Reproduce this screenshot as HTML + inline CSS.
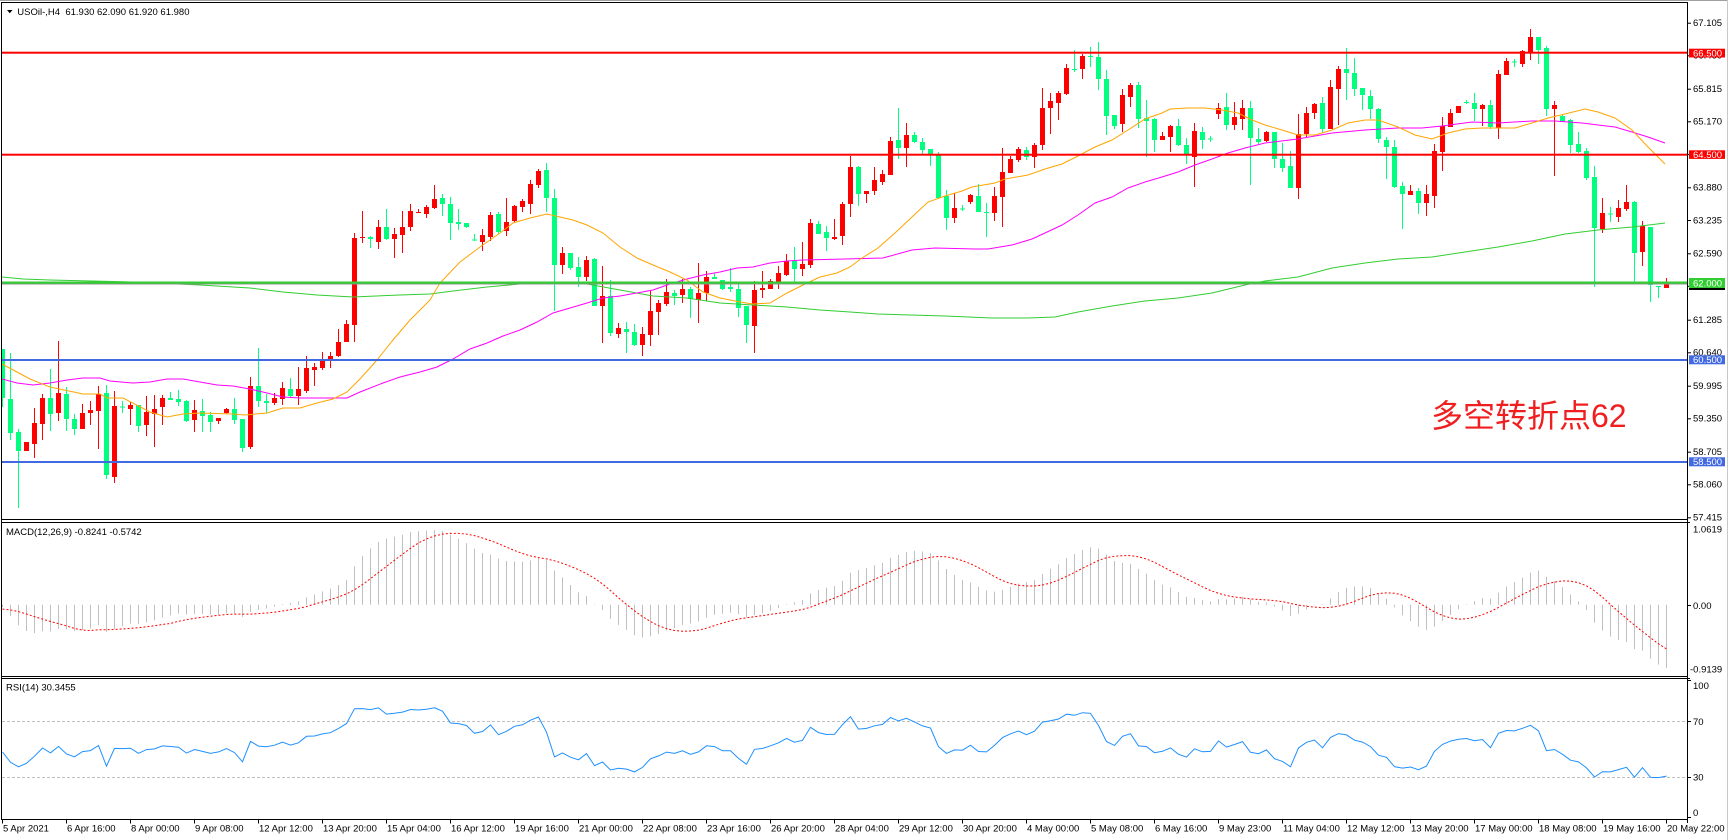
<!DOCTYPE html>
<html><head><meta charset="utf-8">
<style>
html,body{margin:0;padding:0;background:#fff;width:1730px;height:840px;overflow:hidden}
svg{display:block;font-family:"Liberation Sans",sans-serif}
.ax{font-size:9.5px;fill:#000}
.wl{font-size:9.5px;fill:#fff}
</style></head>
<body>
<svg id="s" width="1730" height="840" viewBox="0 0 1730 840" xmlns="http://www.w3.org/2000/svg">
<defs>
<clipPath id="cm"><rect x="2" y="3" width="1685" height="516"/></clipPath>
<clipPath id="cd"><rect x="2" y="523" width="1685" height="153"/></clipPath>
<clipPath id="cr"><rect x="2" y="679" width="1685" height="140"/></clipPath>
</defs>
<rect width="1730" height="840" fill="#fff"/>

<!-- candles -->
<g id="candles" clip-path="url(#cm)"></g>

<!-- moving averages -->
<g clip-path="url(#cm)" fill="none" stroke-width="1">
<polyline stroke="#32CD32" points="2,277 23,279 50,280 133,282 200,285 250,288 283,292 317,295 353,297 400,295 430,294 453,291 487,287 520,284 553,283 587,284 620,290 653,296 687,298 720,303 753,305 787,307 820,310 850,312 878,314 945,316 992,318 1028,318 1055,317 1078,312 1112,306 1145,301 1178,298 1212,293 1245,285 1265,281 1298,277 1332,268 1365,263 1398,259 1432,257 1465,252 1498,247 1532,241 1565,234 1598,230 1632,227 1665,223"/>
<polyline stroke="#FF00FF" points="2,379 17,383 33,385 50,383 67,380 83,378 100,378 110,381 133,383 150,382 167,379 183,379 200,382 217,385 233,386 250,389 267,393 283,397 300,398 347,398 360,392 383,383 400,377 420,372 437,367 453,359 470,349 487,343 503,336 520,330 537,322 553,313 570,308 587,303 603,298 620,296 637,293 653,290 670,284 687,279 703,275 720,272 737,268 753,267 770,263 787,261 803,260 845,259 883,258 912,250 935,248 975,249 988,249 1012,245 1032,239 1045,233 1062,225 1078,215 1095,203 1112,197 1128,188 1145,182 1162,177 1178,172 1195,165 1212,159 1228,153 1245,148 1265,143 1298,139 1332,133 1365,130 1398,128 1422,128 1442,126 1472,122 1498,123 1532,121 1555,121 1582,123 1598,125 1615,127 1632,132 1648,137 1665,143"/>
<polyline stroke="#FFA500" points="2,364 30,379 50,387 83,394 100,394 107,398 123,398 150,412 167,417 183,414 200,413 233,414 245,415 267,413 283,408 300,408 317,403 333,399 347,392 360,379 377,360 393,340 410,320 420,310 430,300 440,283 460,262 480,247 500,233 513,223 530,218 547,214 560,217 573,220 587,225 603,233 620,247 637,258 653,265 670,272 687,280 703,292 720,298 740,302 753,304 770,303 787,293 803,285 820,277 837,273 850,267 862,258 878,248 895,233 912,217 928,202 945,196 962,191 972,187 995,183 1005,179 1028,175 1045,169 1062,164 1078,156 1095,147 1112,140 1128,130 1145,119 1162,113 1170,109 1188,108 1205,108 1222,110 1238,113 1252,120 1265,125 1282,130 1298,135 1315,135 1332,130 1348,123 1365,120 1378,120 1398,127 1415,135 1432,139 1448,133 1465,129 1482,128 1498,128 1515,128 1532,123 1548,118 1565,114 1585,109 1598,112 1615,118 1632,130 1648,147 1665,164"/>
</g>

<!-- horizontal levels -->
<rect x="2" y="51.7" width="1685" height="2" fill="#FF0000"/>
<rect x="2" y="153.7" width="1685" height="2" fill="#FF0000"/>
<rect x="2" y="283.5" width="1685" height="1" fill="#909090"/>
<rect x="2" y="281.5" width="1685" height="2.2" fill="#32CD32"/>
<rect x="2" y="359" width="1685" height="2" fill="#4169E1"/>
<rect x="2" y="461" width="1685" height="2" fill="#4169E1"/>

<!-- annotation text -->
<text x="1431" y="427" font-size="32" fill="#F01E1E" style="font-family:'Liberation Sans','Noto Sans CJK SC',sans-serif">多空转折点62</text>

<!-- MACD & RSI -->
<g id="macd" clip-path="url(#cd)"></g>
<g clip-path="url(#cr)" stroke="#C0C0C0" stroke-width="1" stroke-dasharray="3,2">
<line x1="2" y1="721.5" x2="1687" y2="721.5"/>
<line x1="2" y1="777.5" x2="1687" y2="777.5"/>
</g>
<g id="rsi" clip-path="url(#cr)"></g>

<!-- frames -->
<g stroke="#000" stroke-width="1" fill="none">
<line x1="1" y1="2.5" x2="1688" y2="2.5"/>
<line x1="1.5" y1="2" x2="1.5" y2="819.5"/>
<line x1="1687.5" y1="2" x2="1687.5" y2="823"/>
<line x1="1" y1="519.5" x2="1688" y2="519.5"/>
<line x1="1" y1="522.5" x2="1690" y2="522.5"/>
<line x1="1" y1="676.5" x2="1688" y2="676.5"/>
<line x1="1" y1="678.5" x2="1690" y2="678.5"/>
<line x1="1" y1="819.5" x2="1688" y2="819.5"/>
</g>
<line x1="0" y1="0.5" x2="1728" y2="0.5" stroke="#A0A0A0" stroke-width="1"/>
<line x1="1727.5" y1="0" x2="1727.5" y2="840" stroke="#C8C8C8" stroke-width="1"/>

<!-- price axis ticks & labels -->
<g id="pax"></g>

<!-- level boxes -->
<rect x="1689" y="48.7" width="36" height="8.8" fill="#FF0000"/>
<text class="wl" x="1693" y="56.3">66.500</text>
<rect x="1689" y="150.3" width="36" height="8.6" fill="#FF0000"/>
<text class="wl" x="1693" y="157.8">64.500</text>
<rect x="1689" y="283.5" width="36" height="6.5" fill="#000"/>
<rect x="1689" y="278" width="36" height="10" fill="#32CD32"/>
<text class="wl" x="1693" y="286.3">62.000</text>
<rect x="1689" y="355.3" width="36" height="9" fill="#4169E1"/>
<text class="wl" x="1693" y="363.1">60.500</text>
<rect x="1689" y="457.3" width="36" height="9" fill="#4169E1"/>
<text class="wl" x="1693" y="465.1">58.500</text>

<!-- indicator axis labels -->
<text class="ax" x="1693" y="532.4">1.0619</text>
<line x1="1687" y1="605.5" x2="1691" y2="605.5" stroke="#000"/>
<text class="ax" x="1693" y="609.1">0.00</text>
<text class="ax" x="1690" y="672.7">-0.9139</text>
<line x1="1687" y1="680.5" x2="1691" y2="680.5" stroke="#000"/>
<text class="ax" x="1693" y="689.1">100</text>
<line x1="1687" y1="721.5" x2="1691" y2="721.5" stroke="#000"/>
<text class="ax" x="1693" y="725.1">70</text>
<line x1="1687" y1="777.5" x2="1691" y2="777.5" stroke="#000"/>
<text class="ax" x="1693" y="780.7">30</text>
<line x1="1687" y1="817.5" x2="1691" y2="817.5" stroke="#000"/>
<text class="ax" x="1693" y="816.1">0</text>

<!-- panel titles -->
<polygon points="7,10 12.5,10 9.75,13.2" fill="#000"/>
<text class="ax" x="17.3" y="15" style="white-space:pre">USOil-,H4  61.930 62.090 61.920 61.980</text>
<text class="ax" x="6" y="535">MACD(12,26,9) -0.8241 -0.5742</text>
<text class="ax" x="6" y="690.7">RSI(14) 30.3455</text>

<!-- time axis -->
<g id="tax"></g>
</svg>

<script>
(function(){
var D=[
[349,398,349,407],[399,433,353,440],[432,451,429,508],[451,442,442,451],[444,423,408,458],
[424,398,394,440],[398,414,369,431],[413,393,341,421],[394,419,387,431],[419,429,414,435],
[429,413,404,429],[413,410,401,425],[411,394,386,449],[393,475,385,479],[477,406,391,483],
[407,407,401,413],[409,405,402,425],[405,426,405,432],[425,412,396,436],[414,409,395,447],
[407,398,395,425],[398,400,392,400],[399,402,390,406],[401,421,400,422],[420,410,400,432],
[411,416,399,432],[415,422,412,432],[421,418,418,424],[413,409,408,414],[409,420,398,424],
[419,448,419,452],[447,386,377,449],[386,401,348,407],[401,403,394,413],[403,398,393,405],
[399,388,382,405],[389,396,378,397],[396,389,367,405],[391,368,356,393],[370,367,363,386],
[368,360,352,370],[361,356,352,368],[356,342,329,357],[342,324,320,342],[325,238,233,342],
[238,237,211,243],[237,239,236,248],[242,227,220,249],[227,239,209,240],[239,234,228,258],
[235,227,211,253],[227,211,204,231],[213,212,209,213],[214,207,205,218],[208,199,185,209],
[198,204,194,216],[204,223,197,240],[222,224,209,230],[223,227,223,228],[240,240,234,241],
[242,235,229,251],[237,215,212,241],[214,232,212,234],[231,222,198,236],[221,206,205,223],
[207,201,199,212],[204,184,180,214],[185,171,169,188],[170,198,163,212],[198,265,189,311],
[265,253,247,274],[253,268,253,270],[267,277,257,287],[277,260,256,281],[259,306,258,306],
[306,296,266,343],[296,333,280,336],[334,328,323,338],[329,332,322,353],[332,345,324,346],
[345,334,327,356],[335,311,291,346],[312,303,300,335],[304,292,279,306],[293,296,290,305],
[295,289,279,303],[289,299,287,318],[300,293,263,323],[293,277,271,301],[277,279,273,279],
[280,289,280,290],[287,289,268,292],[289,308,284,317],[306,325,306,343],[326,290,281,353],
[290,288,271,298],[289,281,279,289],[282,273,266,289],[275,261,254,276],[261,269,247,282],
[269,264,242,276],[265,223,219,268],[224,234,221,234],[232,238,226,251],[239,237,219,240],
[236,204,202,245],[204,167,156,217],[167,194,166,206],[194,191,191,203],[191,180,167,195],
[182,174,170,185],[175,141,137,175],[140,148,108,159],[148,135,123,167],[135,142,132,143],
[142,150,138,154],[149,154,149,166],[155,198,152,199],[196,218,190,230],[218,208,193,223],
[209,209,205,211],[202,195,194,204],[196,212,184,212],[212,213,203,237],[213,196,187,221],
[197,172,148,227],[173,159,156,173],[160,149,147,162],[150,157,147,160],[157,145,143,168],
[145,108,88,150],[108,101,93,134],[103,93,91,120],[94,68,64,95],[69,70,50,72],
[69,56,54,79],[56,57,47,67],[57,79,42,90],[79,116,70,135],[115,126,115,129],
[124,95,89,132],[97,85,83,107],[85,119,82,128],[118,121,100,157],[119,140,118,152],
[140,136,132,140],[137,126,125,152],[126,145,119,146],[145,154,138,164],[157,131,123,187],
[132,140,127,149],[139,139,136,142],[114,108,103,119],[107,125,93,130],[125,117,102,130],
[119,108,100,130],[108,138,101,185],[139,142,128,144],[141,132,131,142],[132,159,132,168],
[159,168,143,172],[166,188,151,188],[188,134,114,199],[134,113,107,137],[113,104,103,119],
[103,129,97,133],[129,87,80,129],[89,69,66,125],[69,73,48,100],[73,89,58,96],
[88,95,88,110],[96,109,90,119],[109,139,108,143],[140,147,137,179],[147,187,140,188],
[186,194,182,229],[195,191,185,195],[191,203,188,214],[203,194,185,216],[196,151,144,208],
[152,126,117,171],[127,113,109,127],[113,106,106,113],[102,103,100,104],[103,109,93,121],
[109,105,104,126],[105,127,100,129],[128,74,70,139],[75,61,58,75],[62,62,59,67],
[64,51,50,67],[52,37,29,60],[37,50,37,64],[48,109,46,116],[109,105,101,176],
[116,122,114,122],[120,145,119,153],[144,152,132,153],[151,178,148,180],[177,228,166,287],
[229,213,198,233],[214,214,207,222],[217,208,200,222],[209,202,185,211],[202,253,201,283],
[252,226,221,266],[227,285,227,302],[286,287,286,298],[288,283,278,288]
];
var redDoji={45:1};
function P(y){return 62+(282.7-y)/51.11;}
var s='';
for(var i=0;i<D.length;i++){
  var o=D[i][0],c=D[i][1],h=D[i][2],l=D[i][3],x=8*i;
  var col=(c<o||redDoji[i])?'#FF0000':'#00FF7F';
  s+='<rect x="'+(x+2)+'" y="'+h+'" width="1" height="'+Math.max(1,l-h)+'" fill="'+col+'"/>';
  var t=Math.min(o,c),hh=Math.abs(o-c);
  if(hh<1){s+='<rect x="'+x+'" y="'+(t-0.5)+'" width="5" height="1" fill="'+col+'"/>';}
  else{s+='<rect x="'+x+'" y="'+t+'" width="5" height="'+hh+'" fill="'+col+'"/>';}
}
document.getElementById('candles').innerHTML=s;

// MACD
var e12=60.70,e26=60.65,hist=[-0.06,-0.06,-0.06,-0.06,-0.06,-0.06,-0.06,-0.06],m=[],sg=[];
for(i=0;i<D.length;i++){
  var p=P(D[i][1]);
  e12+=(p-e12)*2/13; e26+=(p-e26)*2/27;
  var v=e12-e26; hist.push(v); m.push(v);
  var sum=0; for(var k=hist.length-9;k<hist.length;k++) sum+=hist[k];
  sg.push(sum/9);
}
function MY(v){return 523+(1.0619-v)*77;}
var ms='',y0=MY(0);
for(i=0;i<m.length;i++){
  var y1=MY(m[i]);
  ms+='<rect x="'+(8*i+2)+'" y="'+Math.min(y0,y1).toFixed(1)+'" width="1" height="'+Math.max(0.5,Math.abs(y1-y0)).toFixed(1)+'" fill="#C0C0C0"/>';
}
var pts=[];for(i=0;i<sg.length;i++)pts.push((8*i+2.5)+','+MY(sg[i]).toFixed(1));
ms+='<polyline fill="none" stroke="#FF0000" stroke-width="1" stroke-dasharray="2,2" points="'+pts.join(' ')+'"/>';
document.getElementById('macd').innerHTML=ms;

// RSI
var ag=0.15,al=0.15,pc=59.9,rp=[];
for(i=0;i<D.length;i++){
  var q=P(D[i][1]),ch=q-pc;pc=q;
  ag=(ag*13+Math.max(ch,0))/14; al=(al*13+Math.max(-ch,0))/14;
  var r=100-100/(1+ag/al);
  rp.push((8*i+2.5)+','+(819.3-1.4*r).toFixed(1));
}
document.getElementById('rsi').innerHTML='<polyline fill="none" stroke="#1E90FF" stroke-width="1" points="'+rp.join(' ')+'"/>';

// price axis
var PL=[["67.105",22.7],["66.460",55.3],["65.815",88.7],["65.170",121.3],["64.525",154],["63.880",187.3],["63.235",220],["62.590",253.3],["61.945",285.8],["61.285",319.7],["60.640",352.3],["59.995",385.7],["59.350",418.3],["58.705",451.7],["58.060",484.3],["57.415",517.3]];
var ps='';
for(i=0;i<PL.length;i++){
  ps+='<line x1="1687" y1="'+(PL[i][1]+0.5)+'" x2="1691" y2="'+(PL[i][1]+0.5)+'" stroke="#000" stroke-width="1"/>';
  ps+='<text class="ax" x="1693" y="'+(PL[i][1]+3.4)+'">'+PL[i][0]+'</text>';
}
document.getElementById('pax').innerHTML=ps;

// time axis
var TL=["5 Apr 2021","6 Apr 16:00","8 Apr 00:00","9 Apr 08:00","12 Apr 12:00","13 Apr 20:00","15 Apr 04:00","16 Apr 12:00","19 Apr 16:00","21 Apr 00:00","22 Apr 08:00","23 Apr 16:00","26 Apr 20:00","28 Apr 04:00","29 Apr 12:00","30 Apr 20:00","4 May 00:00","5 May 08:00","6 May 16:00","9 May 23:00","11 May 04:00","12 May 12:00","13 May 20:00","17 May 00:00","18 May 08:00","19 May 16:00","20 May 22:00"];
var ts='';
for(i=0;i<TL.length;i++){
  var tx=64*i+2;
  ts+='<line x1="'+(tx+0.5)+'" y1="819" x2="'+(tx+0.5)+'" y2="823.5" stroke="#000" stroke-width="1"/>';
  ts+='<text class="ax" x="'+(tx+1)+'" y="831.5">'+TL[i]+'</text>';
}
document.getElementById('tax').innerHTML=ts;
})();
</script>
</body></html>
